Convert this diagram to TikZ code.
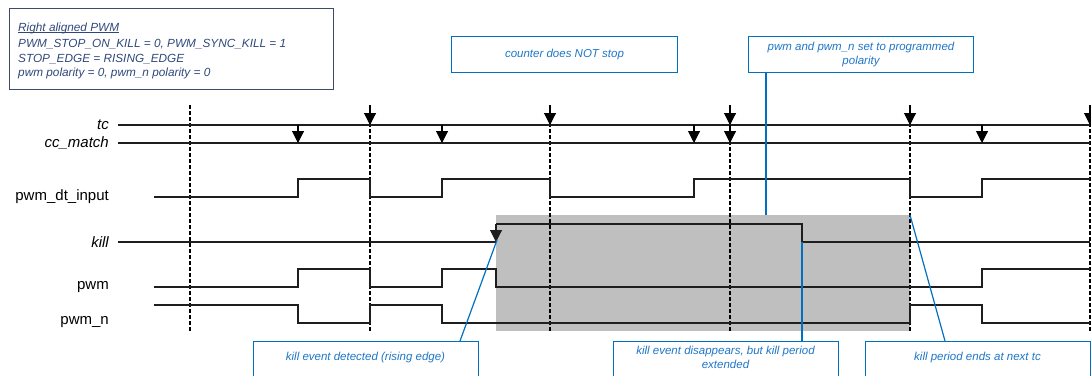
\documentclass[tikz,border=0pt]{standalone}
\usepackage{fontspec}
\setmainfont{Liberation Sans}
\usetikzlibrary{arrows.meta}
\definecolor{cblue}{RGB}{0,112,192}
\definecolor{ctxt}{RGB}{31,118,198}
\definecolor{nav}{RGB}{47,72,122}
\definecolor{navb}{RGB}{60,74,108}
\definecolor{killgrey}{RGB}{191,191,191}
\definecolor{sigc}{RGB}{30,30,30}
\begin{document}
\begin{tikzpicture}[x=1pt,y=-1pt,
 sig/.style={draw=sigc,line width=1.1pt},
 vdash/.style={draw=black,line width=1.2pt,dash pattern=on 4pt off 2pt},
 tcarr/.style={draw=black,line width=1.1pt,-{Triangle[width=12pt,length=12pt]}},
 cbox/.style={draw=cblue,line width=1pt,rectangle,inner sep=0pt},
 ctext/.style={text=ctxt,font=\fontsize{11.5}{14}\selectfont\itshape,align=center},
 cline/.style={draw=cblue,line width=1.2pt},
 infotext/.style={text=nav,font=\fontsize{11.8}{14.5}\selectfont\itshape,inner sep=0pt},
 lbl/.style={anchor=east,font=\fontsize{15}{17}\selectfont,text=black,inner sep=0pt}]
\useasboundingbox (0,0) rectangle (1091,375);
% shaded kill period
\fill[killgrey] (496,215) rectangle (910,331);
% info box
\node[draw=navb,line width=1pt,minimum width=324pt,minimum height=81pt,anchor=north west,inner sep=0pt] (info) at (9,8) {};
\node[infotext,anchor=base west] (title) at (18,31) {Right aligned PWM};
\draw[nav,line width=0.8pt] ([yshift=-1.8pt]title.base west) -- ([yshift=-1.8pt]title.base east);
\node[infotext,anchor=north west,align=left] (infot) at (18,39.5) {PWM\_STOP\_ON\_KILL = 0, PWM\_SYNC\_KILL = 1\\STOP\_EDGE = RISING\_EDGE\\pwm polarity = 0, pwm\_n polarity = 0};
% labels
\node[lbl,font=\fontsize{15}{17}\selectfont\itshape] (ltc) at (109,125) {tc};
\node[lbl,font=\fontsize{15}{17}\selectfont\itshape] (lcc) at (109,142.5) {cc\_match};
\node[lbl] (ldt) at (109,196.5) {pwm\_dt\_input};
\node[lbl,font=\fontsize{15}{17}\selectfont\itshape] (lkill) at (109,242) {kill};
\node[lbl] (lpwm) at (109,287) {pwm};
\node[lbl] (lpwmn) at (109,322.5) {pwm\_n};
% dashed period lines
\foreach \x in {190,370,550,730,910,1090} \draw[vdash] (\x,105) -- (\x,332);
% tc and cc_match lines
\draw[sig] (118,125) -- (1090,125);
\draw[sig] (118,143) -- (1090,143);
\foreach \x in {370,550,730,910,1090} \draw[tcarr] (\x,106) -- (\x,125);
\foreach \x in {298,442,694,730,982} \draw[tcarr] (\x,125) -- (\x,143);
% pwm_dt_input
\draw[sig] (154,197) -- (298,197) -- (298,179) -- (370,179) -- (370,197) -- (442,197) -- (442,179) -- (550,179) -- (550,197) -- (694,197) -- (694,179) -- (910,179) -- (910,197) -- (982,197) -- (982,179) -- (1090,179);
% kill
\draw[sig] (118,242) -- (496,242);
\draw[sig,-{Triangle[width=12pt,length=12pt]}] (496,224) -- (496,242);
\draw[sig] (496,224) -- (802,224) -- (802,242) -- (1090,242);
% pwm
\draw[sig] (154,287) -- (298,287) -- (298,269) -- (370,269) -- (370,287) -- (442,287) -- (442,269) -- (496,269) -- (496,287) -- (982,287) -- (982,269) -- (1090,269);
% pwm_n
\draw[sig] (154,305) -- (298,305) -- (298,323) -- (370,323) -- (370,305) -- (442,305) -- (442,323) -- (910,323) -- (910,305) -- (982,305) -- (982,323) -- (1090,323);
% callout boxes
\node[cbox,ctext,minimum width=226pt,minimum height=36pt,anchor=north west] (cnt) at (451,36) {counter does NOT stop};
\node[cbox,ctext,minimum width=225pt,minimum height=36pt,anchor=north west] (pol) at (748,36) {pwm and pwm\_n set to programmed\\polarity};
\node[cbox,minimum width=225pt,minimum height=45pt,anchor=north west] (kd) at (253,341) {};
\node[ctext] (kdt) at (365.5,358) {kill event detected (rising edge)};
\node[cbox,minimum width=225pt,minimum height=45pt,anchor=north west] (ke) at (613,341) {};
\node[ctext] (ket) at (725.5,357.5) {kill event disappears, but kill period\\extended};
\node[cbox,minimum width=225pt,minimum height=45pt,anchor=north west] (kp) at (865,341) {};
\node[ctext] (kpt) at (977.5,358) {kill period ends at next tc};
% callout lines
\coordinate (polfoot) at (766,215);
\coordinate (kdx) at (460,0);
\coordinate (killrise) at (497,240);
\coordinate (killfall) at (802,242);
\coordinate (kpx) at (945,0);
\coordinate (shadecorner) at (910,215);
\draw[cline] (pol.south west -| polfoot) -- (polfoot);
\draw[cline] (killrise) -- (kd.north west -| kdx);
\draw[cline] (killfall) -- (ke.north west -| killfall);
\draw[cline] (shadecorner) -- (kp.north west -| kpx);
\end{tikzpicture}
\end{document}
